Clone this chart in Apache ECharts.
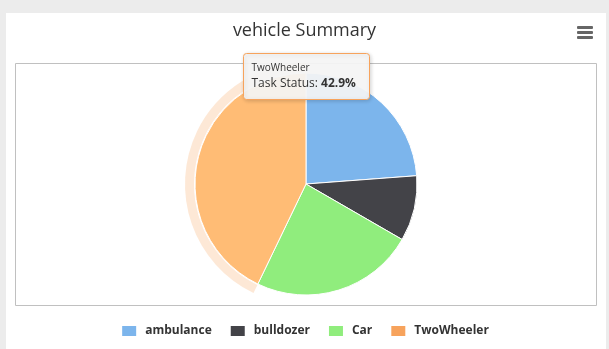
<!DOCTYPE html>
<html>
<head>
<meta charset="utf-8">
<script src="https://cdn.jsdelivr.net/npm/echarts@6/dist/echarts.min.js"></script>
<style>
  html, body { margin: 0; padding: 0; background: #ececec; }
  #chart { width: 609px; height: 349px; }
</style>
</head>
<body>
<div id="chart"></div>
<script>
// Vehicle task status breakdown
const categories = ['ambulance', 'bulldozer', 'Car', 'TwoWheeler'];
const taskCounts = [5, 2, 5, 9];
const colors = ['#7cb5ec', '#434348', '#90ed7d', '#f7a35c'];
const hoverColor = '#ffbc75';   // brightened TwoWheeler slice
const focusIndex = 3;           // slice shown with tooltip + halo

const FONT = '"Open Sans", "DejaVu Sans", sans-serif';
const total = taskCounts.reduce((a, b) => a + b, 0);
const focusPct = (taskCounts[focusIndex] / total * 100).toFixed(1) + '%';

const chart = echarts.init(document.getElementById('chart'), null, { renderer: 'canvas' });

const mainData = categories.map((name, i) => ({
  name,
  value: taskCounts[i],
  itemStyle: { color: i === focusIndex ? hoverColor : colors[i] }
}));

const haloData = categories.map((name, i) => ({
  name,
  value: taskCounts[i],
  itemStyle: {
    color: i === focusIndex ? 'rgba(247,163,92,0.25)' : 'rgba(0,0,0,0)',
    borderWidth: 0
  }
}));

const center = [306, 184];

chart.setOption({
  backgroundColor: '#ececec',
  animation: false,
  title: {
    text: 'vehicle Summary',
    left: 'center',
    top: 17,
    textStyle: { fontFamily: FONT, fontSize: 18, fontWeight: 'normal', color: '#333333' }
  },
  legend: {
    bottom: 6,
    left: 'center',
    icon: 'rect',
    itemWidth: 16,
    itemHeight: 12,
    itemGap: 17,
    selectedMode: false,
    textStyle: { fontFamily: FONT, fontSize: 12, fontWeight: 'bold', color: '#333333', padding: [0, 0, 0, 3] },
    data: categories.map((name, i) => ({ name, itemStyle: { color: colors[i] } }))
  },
  graphic: [
    // white panel
    { type: 'rect', z: -10, shape: { x: 6, y: 13, width: 600, height: 336 }, style: { fill: '#ffffff' }, silent: true },
    // plot area border
    { type: 'rect', z: -5, shape: { x: 15.5, y: 63.5, width: 581, height: 242 }, style: { fill: 'none', stroke: '#c0c0c0', lineWidth: 1 }, silent: true },
    // context menu icon
    { type: 'group', left: 577, top: 26, children: [0, 5, 10].map(dy => ({
        type: 'rect', shape: { x: 0, y: dy, width: 16, height: 3, r: 1 }, style: { fill: '#666666' }
      })) },
    // tooltip for the highlighted slice
    { type: 'group', left: 243, top: 53, zlevel: 1, children: [
        { type: 'rect', zlevel: 1, shape: { x: 0, y: 0, width: 126, height: 46, r: 3 },
          style: { fill: 'rgba(247,247,247,0.92)', stroke: colors[focusIndex], lineWidth: 1,
                   shadowBlur: 4, shadowOffsetX: 1, shadowOffsetY: 1, shadowColor: 'rgba(0,0,0,0.18)' } },
        { type: 'text', zlevel: 1, x: 8, y: 10, style: { text: categories[focusIndex], fontFamily: FONT, fontSize: 10, fill: '#333333' } },
        { type: 'text', zlevel: 1, x: 8, y: 24, style: {
            text: '{l|Task Status: }{v|' + focusPct + '}',
            rich: {
              l: { fontFamily: FONT, fontSize: 12, fill: '#333333' },
              v: { fontFamily: FONT, fontSize: 12, fontWeight: 'bold', fill: '#333333' }
            } } }
      ] }
  ],
  series: [
    {
      name: 'Task Status',
      type: 'pie',
      center,
      radius: [0, 111],
      startAngle: 90,
      clockwise: true,
      label: { show: false },
      labelLine: { show: false },
      emphasis: { disabled: true },
      itemStyle: { borderColor: '#ffffff', borderWidth: 1 },
      data: mainData
    },
    {
      name: 'halo',
      type: 'pie',
      center,
      radius: [112, 121],
      startAngle: 90,
      clockwise: true,
      silent: true,
      z: 1,
      label: { show: false },
      labelLine: { show: false },
      emphasis: { disabled: true },
      data: haloData
    }
  ]
});
</script>
</body>
</html>
